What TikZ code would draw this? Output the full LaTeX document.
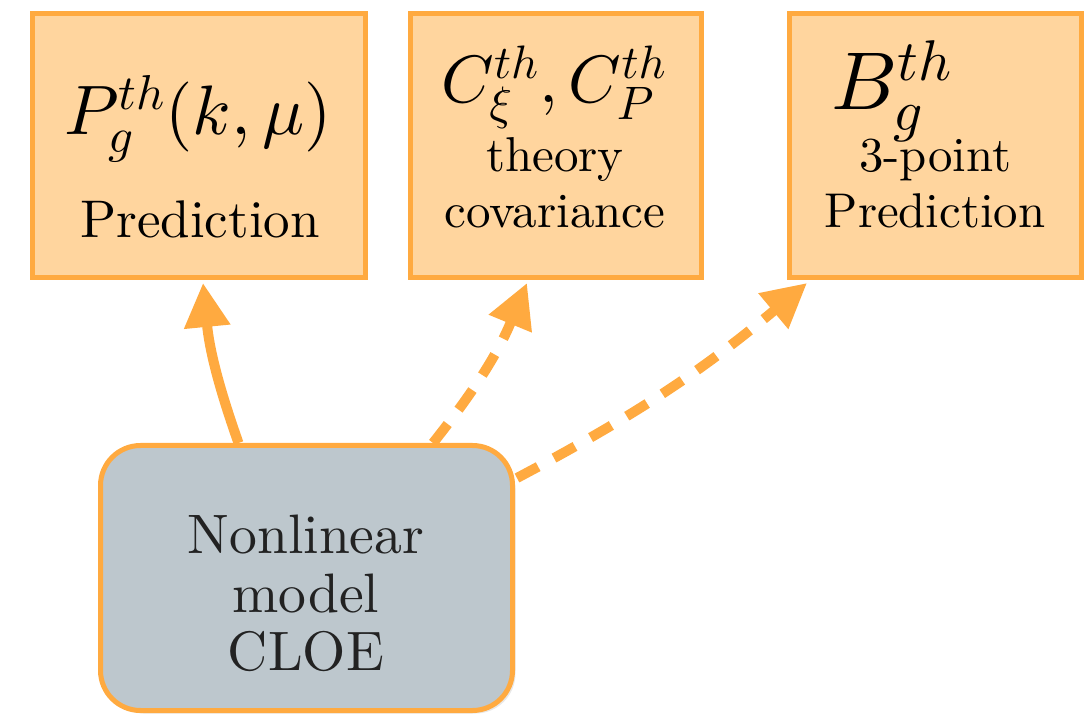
\documentclass[tikz,border=0pt]{standalone}
\usepackage{fontspec}
\setmainfont{lmroman10-regular.otf}
\DeclareFontShape{OML}{cmm}{m}{it}{<->cmmi10}{}
\DeclareFontShape{OT1}{cmr}{m}{n}{<->cmr10}{}
\DeclareFontShape{OMS}{cmsy}{m}{n}{<->cmsy10}{}
\usetikzlibrary{arrows.meta,shadows}
\definecolor{orng}{HTML}{FFAA40}
\definecolor{peach}{HTML}{FFD59E}
\definecolor{slate}{HTML}{BDC7CD}
\definecolor{ink}{HTML}{222222}
\begin{document}
\begin{tikzpicture}[x=0.5pt,y=0.5pt,
  outbox/.style={draw=orng, fill=peach, line width=2.5pt, minimum width=#1, minimum height=132pt, inner sep=0pt},
  modelbox/.style={draw=orng, fill=slate, line width=2.5pt, rounded corners=20pt, minimum width=206pt, minimum height=132.5pt, inner sep=0pt,
    drop shadow={opacity=0.18, shadow xshift=1.5pt, shadow yshift=-1.5pt}},
  lbl/.style={inner sep=0pt, anchor=base, text=black},
  conn/.style={draw=orng, line width=5pt, -{Triangle[length=22pt,width=22pt]}},
  dconn/.style={conn, dash pattern=on 12pt off 9pt}
]
\useasboundingbox (0,0) rectangle (1086,-715);
% boxes
\node[outbox=166.5pt] (b1) at (199,-145.5) {};
\node[outbox=145.5pt] (b2) at (556,-145.5) {};
\node[outbox=146pt] (b3) at (935.5,-145.5) {};
\node[modelbox] (m) at (306.5,-578) {};
% texts box 1
\node[lbl] (t1a) at (198,-135) {\fontsize{35}{40}\selectfont $P_g^{th}(k,\mu)$};
\node[lbl] (t1b) at (200,-238) {\fontsize{26.5}{30}\selectfont Prediction};
% texts box 2
\node[lbl] (t2a) at (554,-103) {\fontsize{33.5}{38}\selectfont $C_\xi^{th},C_P^{th}$};
\node[lbl] (t2b) at (555,-172) {\fontsize{24.5}{28}\selectfont theory};
\node[lbl] (t2c) at (555,-228) {\fontsize{24.5}{28}\selectfont covariance};
% texts box 3
\node[lbl, anchor=base west] (t3a) at (831,-110) {\fontsize{41}{46}\selectfont $B_g^{th}$};
\node[lbl] (t3b) at (935,-172) {\fontsize{24.4}{28}\selectfont 3-point};
\node[lbl] (t3c) at (935,-228) {\fontsize{24.4}{28}\selectfont Prediction};
% model texts
\node[lbl, text=ink] (m1) at (306,-553) {\fontsize{27.8}{32}\selectfont Nonlinear};
\node[lbl, text=ink] (m2) at (306,-612) {\fontsize{27.8}{32}\selectfont model};
\node[lbl, text=ink] (m3) at (306,-670) {\fontsize{27.8}{32}\selectfont CLOE};
% connectors
\draw[conn] ([xshift=-34pt]m.north) to[bend left=7] ([xshift=2pt,yshift=-1.5pt]b1.south);
\draw[dconn] ([xshift=63.25pt]m.north) to[bend right=8] ([xshift=-14.5pt,yshift=-1.5pt]b2.south);
\draw[dconn] ([xshift=1pt,yshift=-17.5pt]m.north east) to[bend right=6] ([xshift=10pt,yshift=-1.5pt]b3.south west);
\end{tikzpicture}
\end{document}
